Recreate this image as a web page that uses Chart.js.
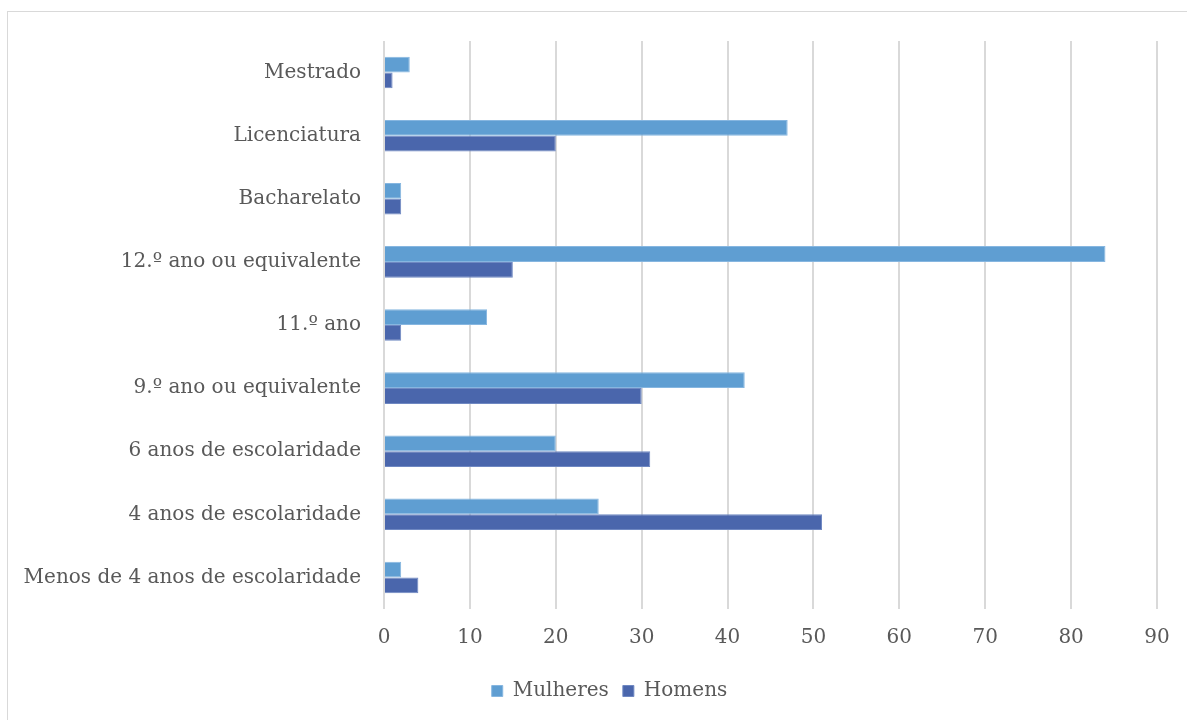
<!DOCTYPE html>
<html>
<head>
<meta charset="utf-8">
<script src="https://cdn.jsdelivr.net/npm/chart.js@4"></script>
<style>
  body { margin: 0; background: #fff; }
  #frame { position: absolute; left: 7px; top: 11px; width: 1200px; height: 730px; border: 1px solid #d9d9d9; }
  #holder { position: absolute; left: 0; top: 0; width: 1187px; height: 720px; }
</style>
</head>
<body>
<div id="frame"></div>
<div id="holder"><canvas id="escolaridade" width="1187" height="720"></canvas></div>
<script>
// Habilitações literárias por sexo
const categories = [
    'Mestrado',
    'Licenciatura',
    'Bacharelato',
    '12.º ano ou equivalente',
    '11.º ano',
    '9.º ano ou equivalente',
    '6 anos de escolaridade',
    '4 anos de escolaridade',
    'Menos de 4 anos de escolaridade'
];
const mulheres = [3, 47, 2, 84, 12, 42, 20, 25, 2];
const homens = [1, 20, 2, 15, 2, 30, 31, 51, 4];
const xTicks = [0, 10, 20, 30, 40, 50, 60, 70, 80, 90];

const textColor = '#595959';
const serif = "'DejaVu Serif', 'Liberation Serif', serif";

// nudge the legend a bit to the right, so it sits under the frame's middle
const legendShift = {
    id: 'legendShift',
    afterLayout: function(chart) {
        chart.legend.left += 31;
        chart.legend.right += 31;
    }
};

var ctx = document.getElementById('escolaridade').getContext('2d');
var chart = new Chart(ctx, {
    type: 'bar',
    data: {
        labels: categories,
        datasets: [{
            label: 'Mulheres',
            data: mulheres,
            backgroundColor: '#5f9ed2',
            borderColor: '#86b6e0',
            borderWidth: 1
        }, {
            label: 'Homens',
            data: homens,
            backgroundColor: '#4a66ac',
            borderColor: '#6f88c2',
            borderWidth: 1
        }]
    },
    options: {
        indexAxis: 'y',
        responsive: false,
        animation: false,
        categoryPercentage: 0.5,
        barPercentage: 1.0,
        layout: {
            padding: { top: 41, right: 30, bottom: 9, left: 0 }
        },
        scales: {
            x: {
                min: 0,
                max: 90,
                afterBuildTicks: function(scale) {
                    scale.ticks = xTicks.map(v => ({ value: v }));
                },
                grid: { color: '#d9d9d9', lineWidth: 2, drawTicks: false },
                border: { display: false },
                ticks: {
                    padding: 17,
                    color: textColor,
                    font: { family: serif, size: 20 }
                }
            },
            y: {
                grid: { display: false, drawTicks: false },
                border: { display: false },
                afterFit: function(scale) {
                    scale.width = 384;
                },
                ticks: {
                    padding: 23,
                    color: textColor,
                    font: { family: serif, size: 20 }
                }
            }
        },
        plugins: {
            legend: {
                position: 'bottom',
                labels: {
                    boxWidth: 11,
                    boxHeight: 11,
                    padding: 14,
                    color: textColor,
                    font: { family: serif, size: 20 }
                }
            },
            tooltip: { enabled: false }
        }
    },
    plugins: [legendShift]
});
</script>
</body>
</html>
